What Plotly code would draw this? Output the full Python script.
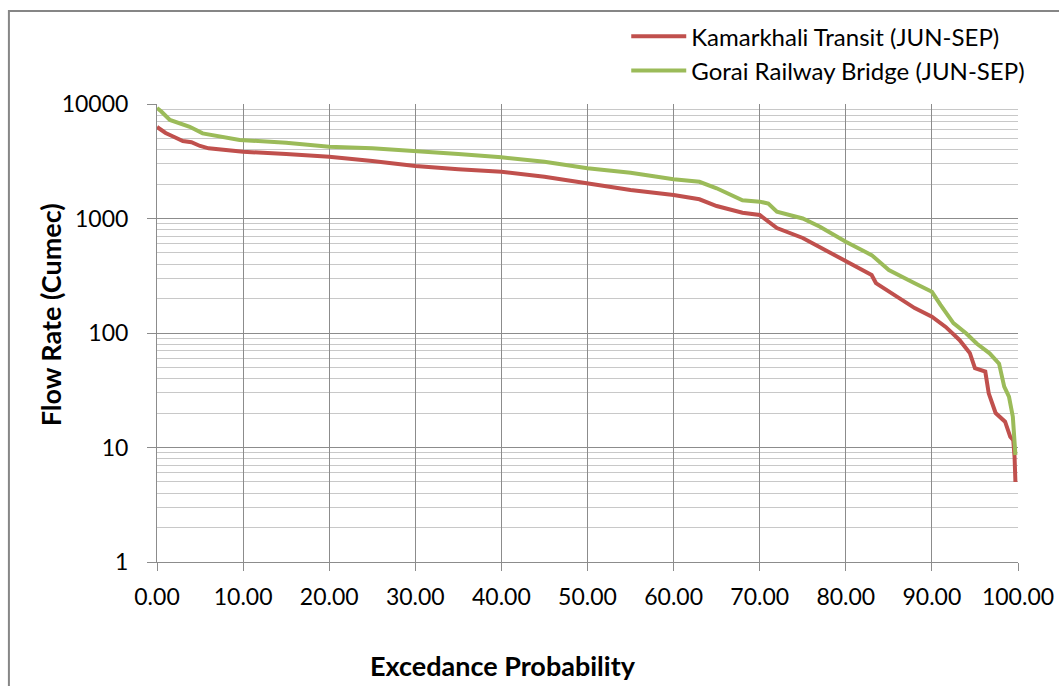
import plotly.graph_objects as go

# Kamarkhali Transit (JUN-SEP)
kam_x = [0, 1, 2, 3, 4, 5, 6, 8, 10, 15, 20, 25, 30, 35, 40, 45, 50, 55, 60, 63, 65, 68, 70,
         72, 75, 78, 80, 82, 83, 83.5, 85, 88, 90, 91.6, 93.2, 94.4, 95.0, 96.2, 96.6, 97.4,
         98.5, 99.1, 99.45, 99.6, 99.7]
kam_y = [6300, 5580, 5150, 4750, 4640, 4300, 4100, 3960, 3830, 3660, 3465, 3180, 2875, 2690,
         2563, 2317, 2030, 1775, 1603, 1472, 1285, 1123, 1073, 826, 676, 513, 420, 355, 321,
         273, 229, 165, 139, 113, 87, 67, 49.4, 46, 29.7, 20, 16.8, 12.4, 11.6, 8.3, 5.0]

# Gorai Railway Bridge (JUN-SEP)
gor_x = [0, 0.5, 1.5, 3.8, 5.3, 7.3, 9.6, 15, 20, 25, 30, 35, 40, 45, 50, 55, 60, 63, 65, 68,
         70, 71, 72, 75, 77, 80, 83, 85, 88, 90, 91, 92.5, 94.0, 95.2, 96.7, 97.8, 98.4, 98.95,
         99.4, 99.55, 99.7]
gor_y = [9230, 8600, 7250, 6330, 5540, 5180, 4850, 4590, 4240, 4100, 3890, 3660, 3420, 3135,
         2745, 2512, 2198, 2090, 1836, 1445, 1403, 1350, 1148, 1000, 848, 626, 479, 355, 272,
         229, 176, 122, 99, 81, 66.5, 54, 34, 27.8, 18.6, 10.5, 8.6]

y_ticks = [1, 10, 100, 1000, 10000]
y_ticktext = ["1", "10", "100", "1000", "10000"]

FONT = "Lato"

fig = go.Figure()
fig.add_trace(go.Scatter(x=kam_x, y=kam_y, mode="lines", name="Kamarkhali Transit (JUN-SEP)",
                         line=dict(color="#C0504D", width=4)))
fig.add_trace(go.Scatter(x=gor_x, y=gor_y, mode="lines", name="Gorai Railway Bridge (JUN-SEP)",
                         line=dict(color="#9BBB59", width=4)))

fig.update_layout(
    width=1059, height=686,
    margin=dict(l=157, r=41, t=104, b=124, autoexpand=False),
    paper_bgcolor="white", plot_bgcolor="white",
    font=dict(family=FONT, size=23, color="#000000"),
    showlegend=True,
    legend=dict(x=0.545, y=1.196, xanchor="left", yanchor="top", bgcolor="rgba(0,0,0,0)",
                font=dict(family=FONT, size=24, color="#000000"), tracegroupgap=0,
                itemwidth=55),
    xaxis=dict(range=[0, 100], dtick=10, tick0=0, tickformat=".2f", showgrid=True,
               gridcolor="#8C8C8C", gridwidth=1, zeroline=False, showline=True,
               linecolor="#8C8C8C", linewidth=1, ticks="outside", ticklen=8,
               tickcolor="#8C8C8C", automargin=False, ticklabelstandoff=6,
               tickfont=dict(family=FONT, size=23, color="#000000")),
    yaxis=dict(type="log", range=[0, 4], tickvals=y_ticks, ticktext=y_ticktext,
               showgrid=True, gridcolor="#8C8C8C", gridwidth=1, zeroline=False,
               showline=True, linecolor="#8C8C8C", linewidth=1, ticks="outside", ticklen=9,
               tickcolor="#8C8C8C", automargin=False, ticklabelstandoff=14,
               tickfont=dict(family=FONT, size=23, color="#000000"),
               minor=dict(dtick="D1", showgrid=True, gridcolor="#C8C8C8", gridwidth=1,
                          ticks="")),
)

fig.add_annotation(text="<b>Flow Rate (Cumec)</b>", xref="paper", yref="paper",
                   x=-0.124, y=0.539, xanchor="center", yanchor="middle", textangle=-90,
                   showarrow=False, font=dict(family=FONT, size=27, color="#000000"))
fig.add_annotation(text="<b>Excedance Probability</b>", xref="paper", yref="paper",
                   x=0.402, y=-0.227, xanchor="center", yanchor="middle", showarrow=False,
                   font=dict(family=FONT, size=27, color="#000000"))

fig.add_shape(type="rect", xref="paper", yref="paper", x0=-0.172, y0=-0.5, x1=1.2, y1=1.203,
              line=dict(color="#868686", width=2), fillcolor="rgba(0,0,0,0)", layer="below")

fig.write_html("out.html")
